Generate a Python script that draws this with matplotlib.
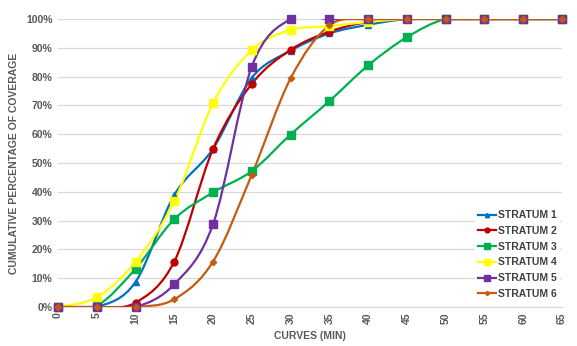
import matplotlib
matplotlib.use("Agg")
import matplotlib.pyplot as plt
import numpy as np
from matplotlib.path import Path
from matplotlib.patches import PathPatch

plt.rcParams['font.family'] = ['Liberation Sans', 'DejaVu Sans']

# data
minutes = [0, 5, 10, 15, 20, 25, 30, 35, 40, 45, 50, 55, 60, 65]
stratum_1 = [0, 0, 8.7, 38.9, 55.0, 79.6, 89.0, 95.0, 98.0, 100, 100, 100, 100, 100]
stratum_2 = [0, 0, 1.5, 15.8, 54.9, 77.5, 89.3, 95.6, 99.0, 100, 100, 100, 100, 100]
stratum_3 = [0, 0.5, 13.3, 30.5, 39.8, 47.2, 59.9, 71.5, 83.9, 93.7, 100, 100, 100, 100]
stratum_4 = [0, 3.4, 15.7, 36.7, 70.8, 89.2, 96.2, 97.5, 99.0, 100, 100, 100, 100, 100]
stratum_5 = [0, 0, 0, 7.9, 28.8, 83.5, 100, 100, 100, 100, 100, 100, 100, 100]
stratum_6 = [0, 0, 0, 2.7, 15.8, 46.0, 79.4, 97.8, 100, 100, 100, 100, 100, 100]
labels = ['STRATUM 1', 'STRATUM 2', 'STRATUM 3', 'STRATUM 4', 'STRATUM 5', 'STRATUM 6']

series = [stratum_1, stratum_2, stratum_3, stratum_4, stratum_5, stratum_6]
colors = ['#0070C0', '#C00000', '#00B050', '#FFFF00', '#7030A0', '#C55A11']
markers = ['^', 'o', 's', 's', 's', 'D']
msizes = [4.5, 5, 5.5, 6, 5.5, 3.2]


def smooth_path(x, y):
    # Excel-style smoothed line as cubic bezier segments
    pts = np.column_stack([x, y]).astype(float)
    n = len(pts)
    verts = [pts[0]]
    codes = [Path.MOVETO]
    for i in range(n - 1):
        p0 = pts[i - 1] if i > 0 else pts[i]
        p1 = pts[i]
        p2 = pts[i + 1]
        p3 = pts[i + 2] if i + 2 < n else pts[i + 1]
        c1 = p1 + (p2 - p0) / 6.0
        c2 = p2 - (p3 - p1) / 6.0
        verts += [c1, c2, p2]
        codes += [Path.CURVE4] * 3
    return Path(verts, codes)


fig = plt.figure(figsize=(5.77, 3.46), dpi=100)
ax = fig.add_axes([0.1005, 0.1127, 0.8735, 0.8323])

handles = []
for vals, c, m, ms, lab in zip(series, colors, markers, msizes, labels):
    patch = PathPatch(smooth_path(minutes, vals), facecolor='none', edgecolor=c,
                      lw=1.6, transform=ax.transData, zorder=3)
    ax.add_patch(patch)
    ax.plot(minutes, vals, linestyle='none', marker=m, ms=ms, color=c,
            markeredgecolor=c, zorder=4, clip_on=False)
    handles.append(ax.plot([], [], color=c, lw=1.6, marker=m, ms=ms * 0.7)[0])

ax.set_xlim(0, 65)
ax.set_ylim(0, 100)
ax.set_xticks(minutes)
ax.set_xticklabels([str(v) for v in minutes], rotation=90)
ax.set_yticks(np.arange(0, 101, 10))
ax.set_yticklabels([f'{v}%' for v in range(0, 101, 10)])
ax.tick_params(length=0, labelsize=7.5, labelcolor='#595959', pad=4)
for lbl in ax.get_xticklabels() + ax.get_yticklabels():
    lbl.set_fontweight('bold')

ax.grid(axis='y', color='#d9d9d9', lw=0.9)
ax.set_axisbelow(True)
for s in ['top', 'right', 'left']:
    ax.spines[s].set_visible(False)
ax.spines['bottom'].set_color('#d9d9d9')

ax.set_xlabel('CURVES (MIN)', fontsize=7.5, fontweight='bold', color='#595959', labelpad=5)
ax.set_ylabel('CUMULATIVE PERCENTAGE OF COVERAGE', fontsize=7.5, fontweight='bold',
              color='#595959', labelpad=5)

leg = ax.legend(handles, labels, loc='lower right', bbox_to_anchor=(1.0, 0.01),
                frameon=True, fontsize=7.5, handlelength=1.7, handletextpad=0.2,
                labelspacing=0.55, borderpad=0.3, borderaxespad=0.2)
leg.get_frame().set_edgecolor('none')
leg.get_frame().set_facecolor('white')
leg.get_frame().set_alpha(1)
for t in leg.get_texts():
    t.set_fontweight('bold')
    t.set_color('#404040')

fig.savefig('out.png', dpi=100)
